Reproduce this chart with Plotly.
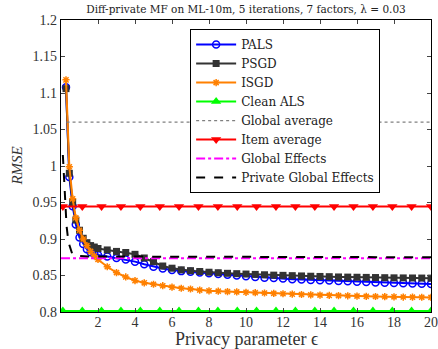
import plotly.graph_objects as go

# ---- data ----
eps = [0.27, 0.45, 0.63, 0.8, 1.0, 1.2, 1.4, 1.6, 1.8, 2.0, 2.5, 3.0, 3.5, 4.0, 4.5,
       5.0, 5.5, 6.0, 6.5, 7.0, 7.5, 8.0, 8.5, 9.0, 9.5, 10.0, 10.5, 11.0, 11.5, 12.0,
       12.5, 13.0, 13.5, 14.0, 14.5, 15.0, 15.5, 16.0, 16.5, 17.0, 17.5, 18.0, 18.5,
       19.0, 19.5, 20.0]

pals = [1.108, 0.985, 0.945, 0.920, 0.902, 0.893, 0.886, 0.882, 0.880, 0.878, 0.876,
        0.874, 0.872, 0.869, 0.8655, 0.862, 0.8595, 0.8575, 0.856, 0.855, 0.854, 0.853,
        0.852, 0.851, 0.850, 0.849, 0.848, 0.847, 0.8465, 0.846, 0.845, 0.8445, 0.844,
        0.8435, 0.843, 0.8425, 0.842, 0.8415, 0.841, 0.8405, 0.840, 0.8398, 0.8394,
        0.839, 0.8387, 0.8385]

psgd = [1.106, 0.990, 0.950, 0.926, 0.912, 0.901, 0.895, 0.891, 0.889, 0.887, 0.885,
        0.883, 0.8815, 0.879, 0.874, 0.869, 0.863, 0.860, 0.8578, 0.8566, 0.8555, 0.8545,
        0.8538, 0.853, 0.8525, 0.852, 0.8515, 0.851, 0.8505, 0.8502, 0.8498, 0.8494,
        0.849, 0.8487, 0.8484, 0.848, 0.8478, 0.8476, 0.8474, 0.8472, 0.847, 0.8468,
        0.8467, 0.8466, 0.8465, 0.8464]

isgd = [1.118, 0.999, 0.955, 0.929, 0.912, 0.900, 0.891, 0.883, 0.877, 0.872, 0.862,
        0.854, 0.848, 0.843, 0.840, 0.838, 0.836, 0.834, 0.8325, 0.8315, 0.830, 0.829,
        0.8285, 0.828, 0.8275, 0.827, 0.8265, 0.826, 0.8255, 0.825, 0.8245, 0.824,
        0.8235, 0.8232, 0.8228, 0.8225, 0.8222, 0.8218, 0.8215, 0.8212, 0.821, 0.8208,
        0.8205, 0.8203, 0.8202, 0.820]

eps_markers = [0.1, 1.15, 2.19, 3.24, 4.29, 5.34, 6.38, 7.43, 8.48, 9.53, 10.57, 11.62,
               12.67, 13.72, 14.76, 15.81, 16.86, 17.91, 18.95, 20.0]
clean_als = 0.8015
item_average = 0.9445
global_average = 1.06
global_average_eps = [0.3, 20.0]
global_effects = 0.8736
global_effects_eps = [0.0, 20.0]

pge_eps = [0.1, 0.2, 0.3, 0.4, 0.5, 0.6, 0.8, 1.0, 1.5, 2.0, 4.0, 8.0, 12.0, 16.0, 20.0]
pge = [1.015, 0.960, 0.918, 0.896, 0.886, 0.880, 0.877, 0.8765, 0.876, 0.876, 0.8758,
       0.8755, 0.8752, 0.875, 0.875]

x_ticks = [2, 4, 6, 8, 10, 12, 14, 16, 18, 20]
y_ticks = [0.8, 0.85, 0.9, 0.95, 1.0, 1.05, 1.1, 1.15, 1.2]
y_ticktext = ["0.8", "0.85", "0.9", "0.95", "1", "1.05", "1.1", "1.15", "1.2"]

LIB = "Liberation Serif"
DJV = "DejaVu Serif"

fig = go.Figure()

fig.add_trace(go.Scatter(x=eps, y=pals, name="PALS", mode="lines+markers",
                         line=dict(color="#0000ff", width=2),
                         marker=dict(symbol="circle-open", size=7, color="#0000ff",
                                     line=dict(width=1.5, color="#0000ff"))))
fig.add_trace(go.Scatter(x=eps, y=psgd, name="PSGD", mode="lines+markers",
                         line=dict(color="#333333", width=2),
                         marker=dict(symbol="square", size=7, color="#333333")))
fig.add_trace(go.Scatter(x=eps, y=isgd, name="ISGD", mode="lines+markers",
                         line=dict(color="#ff8000", width=2),
                         marker=dict(symbol="asterisk-open", size=6, color="#ff8000",
                                     line=dict(width=1.5, color="#ff8000"))))
fig.add_trace(go.Scatter(x=eps_markers, y=[clean_als] * len(eps_markers), name="Clean ALS",
                         mode="lines+markers", line=dict(color="#00ff00", width=2),
                         marker=dict(symbol="triangle-up", size=9, color="#00ff00")))
fig.add_trace(go.Scatter(x=global_average_eps, y=[global_average] * len(global_average_eps),
                         name="Global average", mode="lines",
                         line=dict(color="#808080", width=1.2, dash="dot")))
fig.add_trace(go.Scatter(x=eps_markers, y=[item_average] * len(eps_markers), name="Item average",
                         mode="lines+markers", line=dict(color="#ff0000", width=2),
                         marker=dict(symbol="triangle-down", size=9, color="#ff0000")))
fig.add_trace(go.Scatter(x=global_effects_eps, y=[global_effects] * len(global_effects_eps),
                         name="Global Effects", mode="lines",
                         line=dict(color="#ff00ff", width=2, dash="dashdot")))
fig.add_trace(go.Scatter(x=pge_eps, y=pge, name="Private Global Effects", mode="lines",
                         line=dict(color="#000000", width=2, dash="dash")))

fig.update_layout(
    width=438, height=349,
    margin=dict(l=61, r=7, t=20, b=37),
    paper_bgcolor="white", plot_bgcolor="white",
    font=dict(family=LIB, color="#000000", size=13),
    title=dict(text="Diff-private MF on ML-10m, 5 iterations, 7 factors, \u03bb = 0.03",
               x=0.5, xref="paper", xanchor="center", y=0.972, yanchor="middle",
               font=dict(size=10.5, family=DJV, color="#222")),
    showlegend=True,
    legend=dict(x=0.349, y=0.969, xanchor="left", yanchor="top",
                bgcolor="white", bordercolor="black", borderwidth=1,
                font=dict(size=12, family=DJV, color="#222"), tracegroupgap=0,
                itemwidth=40, entrywidth=224),
    xaxis=dict(range=[0, 20], tickvals=x_ticks, ticks="inside", ticklen=4,
               showline=True, linecolor="black", linewidth=1.2, mirror="ticks",
               showgrid=False, zeroline=False, automargin=False, ticklabelstandoff=-3,
               tickfont=dict(size=14, family=LIB, color="#333")),
    yaxis=dict(range=[0.8, 1.2], tickvals=y_ticks, ticktext=y_ticktext, ticks="inside",
               ticklen=4, showline=True, linecolor="black", linewidth=1.2, mirror="ticks",
               showgrid=False, zeroline=False, automargin=False,
               tickfont=dict(size=14, family=LIB, color="#333")),
    annotations=[
        dict(text="Privacy parameter \u03f5", xref="paper", yref="paper", x=0.5, y=-0.094,
             xanchor="center", yanchor="middle", showarrow=False,
             font=dict(size=18, family=LIB, color="#333")),
        dict(text="<i>RMSE</i>", xref="paper", yref="paper", x=-0.12, y=0.5,
             xanchor="center", yanchor="middle", textangle=-90, showarrow=False,
             font=dict(size=15, family=LIB, color="#333")),
    ],
)

fig.write_html("out.html", config={"displayModeBar": False},
               post_script="document.body.style.margin='0px';document.body.style.overflow='hidden';")
